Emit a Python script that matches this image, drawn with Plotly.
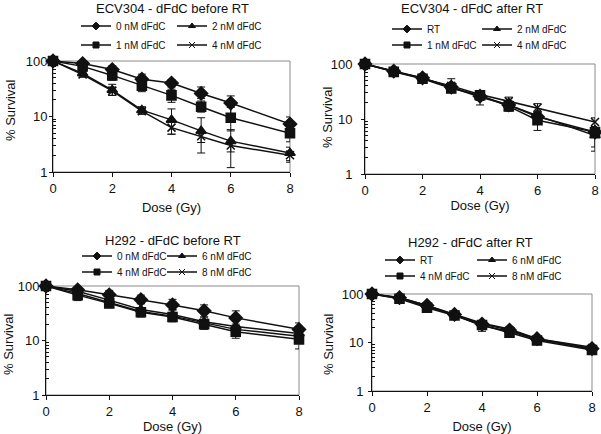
import plotly.graph_objects as go

W, H = 601, 434

dose = [0, 1, 2, 3, 4, 5, 6, 8]

# Panel 1: ECV304 - dFdC before RT
p1_names = ["0 nM dFdC", "2 nM dFdC", "1 nM dFdC", "4 nM dFdC"]
p1_0nM = [100, 90, 70, 47, 40, 26, 17.5, 7.3]
p1_0nM_up = [0, 6, 12, 11, 6, 8, 6, 2.5]
p1_0nM_dn = [0, 6, 10, 9, 6, 5, 7, 2]
p1_2nM = [100, 60, 30, 13, 8.7, 5.5, 3.6, 2.2]
p1_2nM_up = [0, 8, 8, 2, 5, 4, 2.2, 0.6]
p1_2nM_dn = [0, 8, 6, 2, 3.9, 3.3, 2.4, 0.7]
p1_1nM = [100, 80, 55, 36, 24, 15, 9.5, 5.0]
p1_1nM_up = [0, 8, 10, 8, 7, 4, 5, 1.5]
p1_1nM_dn = [0, 8, 10, 8, 6, 3, 4, 1.5]
p1_4nM = [100, 57, 29, 12.5, 6.3, 4.4, 3.0, 2.0]
p1_4nM_up = [0, 6, 5, 1.5, 1.5, 1.0, 0.7, 0.4]
p1_4nM_dn = [0, 6, 5, 1.5, 1.5, 1.0, 0.7, 0.4]

# Panel 2: ECV304 - dFdC after RT
p2_names = ["RT", "2 nM dFdC", "1 nM dFdC", "4 nM dFdC"]
p2_RT = [100, 74, 56, 38, 26, 18, 11, 5.8]
p2_RT_up = [0, 6, 6, 5, 4, 3, 2, 1]
p2_RT_dn = [0, 6, 6, 5, 4, 3, 2, 1]
p2_2nM = [100, 73, 56, 38, 25, 18, 11.5, 5.0]
p2_2nM_up = [0, 5, 6, 6, 4, 3, 2, 1]
p2_2nM_dn = [0, 5, 6, 6, 7, 4, 2, 2.4]
p2_1nM = [100, 72, 54, 36, 27, 17, 9.5, 5.8]
p2_1nM_up = [0, 6, 8, 6, 5, 4, 2.5, 1.2]
p2_1nM_dn = [0, 6, 8, 6, 5, 3, 3.3, 2.7]
p2_4nM = [100, 73, 55, 40, 28, 21, 16, 8.8]
p2_4nM_up = [0, 5, 6, 14, 4, 4, 3, 1.7]
p2_4nM_dn = [0, 5, 6, 5, 4, 3, 3, 1.5]

# Panel 3: H292 - dFdC before RT
p3_names = ["0 nM dFdC", "6 nM dFdC", "4 nM dFdC", "8 nM dFdC"]
p3_0nM = [100, 85, 69, 56, 45, 35, 26, 16]
p3_0nM_up = [0, 8, 14, 12, 12, 10, 9, 5]
p3_0nM_dn = [0, 8, 10, 8, 8, 8, 6, 4]
p3_6nM = [100, 80, 55, 37, 30, 22, 18, 13.5]
p3_6nM_up = [0, 8, 10, 10, 6, 5, 5, 3]
p3_6nM_dn = [0, 8, 10, 8, 6, 5, 5, 3]
p3_4nM = [100, 68, 48, 33, 27, 20, 14.5, 10.5]
p3_4nM_up = [0, 10, 8, 6, 5, 4, 4, 3]
p3_4nM_dn = [0, 14, 8, 6, 5, 4, 3.5, 3.5]
p3_8nM = [100, 73, 50, 34, 28, 21, 16, 12]
p3_8nM_up = [0, 5, 5, 4, 3, 3, 2, 2]
p3_8nM_dn = [0, 5, 5, 4, 3, 3, 2, 2]

# Panel 4: H292 - dFdC after RT
p4_names = ["RT", "6 nM dFdC", "4 nM dFdC", "8 nM dFdC"]
p4_RT = [100, 84, 58, 38, 24, 18, 12, 7.5]
p4_RT_up = [0, 5, 5, 3, 3, 2, 1.5, 1.2]
p4_RT_dn = [0, 5, 5, 3, 3, 2, 1.5, 1.2]
p4_6nM = [100, 85, 58, 38, 25, 19, 12, 8]
p4_6nM_up = [0, 5, 5, 3, 3, 2, 1.5, 1.2]
p4_6nM_dn = [0, 5, 5, 3, 3, 2, 1.5, 1.2]
p4_4nM = [100, 80, 52, 36, 23, 16, 11, 7]
p4_4nM_up = [0, 5, 5, 3, 3, 2, 1.5, 2]
p4_4nM_dn = [0, 5, 5, 3, 6, 2, 2, 1.2]
p4_8nM = [100, 82, 55, 37, 22, 17, 11.5, 7.3]
p4_8nM_up = [0, 5, 5, 3, 3, 2, 1.5, 1.2]
p4_8nM_dn = [0, 5, 5, 3, 3, 2, 1.5, 1.2]

titles = ["ECV304 - dFdC before RT", "ECV304 - dFdC after RT",
          "H292 - dFdC before RT", "H292 - dFdC after RT"]
y_title = "% Survival"
x_title = "Dose (Gy)"

FONT = "Liberation Sans, Arial, sans-serif"
BLACK = "#111111"
symbols = ["diamond", "triangle-up", "square", "x-thin"]
msizes = [10, 9, 9, 8]
leg_msizes = [6, 6, 6, 6]

panels = [
    dict(names=p1_names, ys=[(p1_0nM, p1_0nM_up, p1_0nM_dn), (p1_2nM, p1_2nM_up, p1_2nM_dn),
                             (p1_1nM, p1_1nM_up, p1_1nM_dn), (p1_4nM, p1_4nM_up, p1_4nM_dn)],
         xpx=(53, 290), ypx=(61, 172), title_xy=(172, 8),
         leg_text_x=(116, 212), leg_rows=(26, 45), ystand=-1, ytitle_xy=(10, 110), xtstand=8),
    dict(names=p2_names, ys=[(p2_RT, p2_RT_up, p2_RT_dn), (p2_2nM, p2_2nM_up, p2_2nM_dn),
                             (p2_1nM, p2_1nM_up, p2_1nM_dn), (p2_4nM, p2_4nM_up, p2_4nM_dn)],
         xpx=(365, 595), ypx=(64, 174), title_xy=(472, 8),
         leg_text_x=(427, 517), leg_rows=(29, 45), ystand=6, ytitle_xy=(327, 117), xtstand=4),
    dict(names=p3_names, ys=[(p3_0nM, p3_0nM_up, p3_0nM_dn), (p3_6nM, p3_6nM_up, p3_6nM_dn),
                             (p3_4nM, p3_4nM_up, p3_4nM_dn), (p3_8nM, p3_8nM_up, p3_8nM_dn)],
         xpx=(46, 299), ypx=(286, 395), title_xy=(173, 240),
         leg_text_x=(117, 202), leg_rows=(256, 272), ystand=0, ytitle_xy=(8, 344), xtstand=6),
    dict(names=p4_names, ys=[(p4_RT, p4_RT_up, p4_RT_dn), (p4_6nM, p4_6nM_up, p4_6nM_dn),
                             (p4_4nM, p4_4nM_up, p4_4nM_dn), (p4_8nM, p4_8nM_up, p4_8nM_dn)],
         xpx=(372, 592), ypx=(294, 391), title_xy=(470, 243),
         leg_text_x=(420, 512), leg_rows=(260, 276), ystand=2, ytitle_xy=(328, 344), xtstand=9),
]

fig = go.Figure()
layout = dict(width=W, height=H, margin=dict(l=0, r=0, t=0, b=0),
              paper_bgcolor="white", plot_bgcolor="white",
              font=dict(family=FONT, color=BLACK, size=13),
              showlegend=True, annotations=[], shapes=[])

leg_idx = 0
for pi, p in enumerate(panels):
    k = pi + 1
    xa = "x" if k == 1 else f"x{k}"
    ya = "y" if k == 1 else f"y{k}"
    xkey = "xaxis" if k == 1 else f"xaxis{k}"
    ykey = "yaxis" if k == 1 else f"yaxis{k}"
    x0, x1 = p["xpx"]
    yt, yb = p["ypx"]
    layout[xkey] = dict(domain=[x0 / W, x1 / W], anchor=ya, range=[0, 8], automargin=False,
                        tickvals=[0, 2, 4, 6, 8], ticks="outside", ticklen=4,
                        tickcolor=BLACK, showline=True, linecolor=BLACK, linewidth=1,
                        showgrid=False, zeroline=False, tickfont=dict(size=13),
                        title=dict(text=x_title, font=dict(size=13), standoff=p["xtstand"]))
    layout[ykey] = dict(domain=[1 - yb / H, 1 - yt / H], anchor=xa, type="log", automargin=False,
                        range=[0, 2], tickvals=[1, 10, 100], ticktext=["1", "10", "100"],
                        ticks="outside", ticklen=3, tickcolor=BLACK,
                        showline=True, linecolor=BLACK, linewidth=1,
                        showgrid=False, zeroline=False, tickfont=dict(size=13),
                        ticklabelstandoff=p["ystand"],
                        minor=dict(ticks="inside", ticklen=3, tickcolor=BLACK,
                                   tickvals=[2, 3, 4, 5, 6, 7, 8, 9, 20, 30, 40, 50, 60, 70, 80, 90],
                                   showgrid=False))
    layout["shapes"].append(dict(type="rect", xref=f"{xa} domain", yref=f"{ya} domain",
                                 x0=0, x1=1, y0=0, y1=1, line=dict(color="#8a8a8a", width=1),
                                 layer="below"))
    tx, ty = p["title_xy"]
    layout["annotations"].append(dict(text=titles[pi], x=tx / W, y=1 - ty / H, xref="paper",
                                      yref="paper", showarrow=False, xanchor="center",
                                      yanchor="middle", font=dict(size=13, family=FONT, color=BLACK)))
    yx, yy = p["ytitle_xy"]
    layout["annotations"].append(dict(text=y_title, x=yx / W, y=1 - yy / H, xref="paper",
                                      yref="paper", showarrow=False, xanchor="center",
                                      yanchor="middle", textangle=-90,
                                      font=dict(size=13, family=FONT, color=BLACK)))
    for si, (name, (vals, up, dn)) in enumerate(zip(p["names"], p["ys"])):
        leg_idx += 1
        lname = "legend" if leg_idx == 1 else f"legend{leg_idx}"
        col = si % 2
        row = si // 2
        txt_x = p["leg_text_x"][col]
        row_y = p["leg_rows"][row]
        layout[lname] = dict(x=(txt_x - 40) / W, y=1 - row_y / H, xanchor="left",
                             yanchor="middle", bgcolor="rgba(0,0,0,0)", borderwidth=0,
                             font=dict(size=10, family=FONT, color=BLACK),
                             itemwidth=30, tracegroupgap=0)
        fig.add_trace(go.Scatter(
            x=dose, y=vals, name=name, mode="lines+markers", xaxis=xa, yaxis=ya,
            showlegend=False, cliponaxis=False,
            line=dict(color=BLACK, width=1.5),
            marker=dict(symbol=symbols[si], size=msizes[si], color=BLACK,
                        line=dict(color=BLACK, width=1.6)),
            error_y=dict(type="data", array=up, arrayminus=dn, symmetric=False,
                         color=BLACK, thickness=1, width=4),
        ))
        # legend key (same style, smaller marker)
        fig.add_trace(go.Scatter(
            x=[None], y=[None], name=name, mode="lines+markers", xaxis=xa, yaxis=ya,
            legend=lname, showlegend=True,
            line=dict(color=BLACK, width=1.4),
            marker=dict(symbol=symbols[si], size=leg_msizes[si], color=BLACK,
                        line=dict(color=BLACK, width=1)),
        ))

fig.update_layout(**layout)
fig.write_html("out.html", config={"displayModeBar": False},
               post_script="document.body.style.margin='0';")
